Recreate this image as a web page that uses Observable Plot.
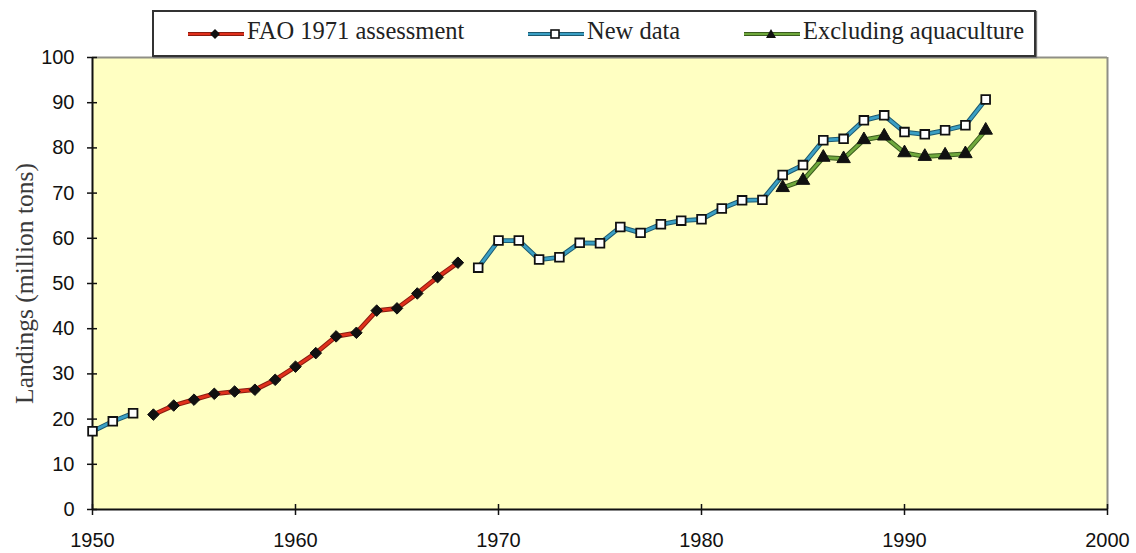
<!DOCTYPE html>
<html>
<head>
<meta charset="utf-8">
<script src="https://cdn.jsdelivr.net/npm/d3@7"></script>
<script src="https://cdn.jsdelivr.net/npm/@observablehq/plot@0.6"></script>
<style>
  html, body { margin: 0; padding: 0; background: #ffffff; }
  #wrap { position: relative; width: 1136px; height: 553px; overflow: hidden; }
  #legend {
    position: absolute; left: 152px; top: 10px; width: 880px; height: 43px;
    border: 2px solid #333; background: #ffffff; box-shadow: 1px 1px 1px #777;
    font-family: "Liberation Serif", serif; font-size: 24.5px; color: #222;
  }
  .item { position: absolute; top: 0; height: 43px; display: flex; align-items: center; }
  .item svg { margin-right: 3px; }
</style>
</head>
<body>
<div id="wrap"></div>
<script>
// ---- data ----
const newEarlyYears  = [1950, 1951, 1952];
const newEarlyValues = [17.3, 19.5, 21.3];

const faoYears  = [1953, 1954, 1955, 1956, 1957, 1958, 1959, 1960, 1961, 1962, 1963, 1964, 1965, 1966, 1967, 1968];
const faoValues = [21.0, 23.0, 24.3, 25.6, 26.1, 26.5, 28.7, 31.6, 34.6, 38.3, 39.1, 44.0, 44.5, 47.8, 51.4, 54.6];

const newLateYears  = [1969, 1970, 1971, 1972, 1973, 1974, 1975, 1976, 1977, 1978, 1979, 1980, 1981,
                       1982, 1983, 1984, 1985, 1986, 1987, 1988, 1989, 1990, 1991, 1992, 1993, 1994];
const newLateValues = [53.5, 59.5, 59.5, 55.3, 55.8, 59.0, 58.9, 62.5, 61.2, 63.1, 63.9, 64.2, 66.6,
                       68.4, 68.5, 74.0, 76.2, 81.7, 82.0, 86.1, 87.2, 83.5, 83.0, 83.9, 85.0, 90.7];

const exclYears  = [1984, 1985, 1986, 1987, 1988, 1989, 1990, 1991, 1992, 1993, 1994];
const exclValues = [71.2, 72.8, 77.9, 77.6, 81.8, 82.6, 78.9, 78.1, 78.4, 78.7, 83.9];

const xTicks = [1950, 1960, 1970, 1980, 1990, 2000];
const yTicks = [0, 10, 20, 30, 40, 50, 60, 70, 80, 90, 100];

const seriesNames = ["FAO 1971 assessment", "New data", "Excluding aquaculture"];
const yTitle = "Landings (million tons)";

// ---- styles ----
const C = {
  fao:  {line: "#e0301c", edge: "#8a1c10"},
  neu:  {line: "#3a9fc4", edge: "#1d5a70"},
  excl: {line: "#6fa83c", edge: "#3a5c1e"}
};
const bg = "#ffffc2";

const toRows = (xs, ys) => xs.map((x, i) => ({year: x, value: ys[i]}));
const newEarly = toRows(newEarlyYears, newEarlyValues);
const fao = toRows(faoYears, faoValues);
const newLate = toRows(newLateYears, newLateValues);
const excl = toRows(exclYears, exclValues);

const lineMarks = (data, c) => [
  Plot.line(data, {x: "year", y: "value", stroke: c.edge, strokeWidth: 4.8, strokeLinejoin: "round"}),
  Plot.line(data, {x: "year", y: "value", stroke: c.line, strokeWidth: 2.8, strokeLinejoin: "round"})
];

const tickFont = {fontSize: 20, fontFamily: "Liberation Sans, Arial, sans-serif"};

const chart = Plot.plot({
  width: 1136,
  height: 553,
  marginLeft: 92,
  marginRight: 29,
  marginTop: 57,
  marginBottom: 44,
  style: {background: "transparent", color: "#111", fontFamily: "Liberation Sans, Arial, sans-serif"},
  x: {domain: [1950, 2000], axis: null},
  y: {domain: [0, 100], axis: null},
  marks: [
    Plot.frame({fill: bg, stroke: "none"}),
    Plot.ruleY([100], {stroke: "#8f8f86", strokeWidth: 2}),
    Plot.ruleX([2000], {stroke: "#8f8f86", strokeWidth: 2}),
    Plot.axisX({ticks: xTicks, tickFormat: "d", tickSize: 11, dy: -5, tickPadding: 17, label: null,
                strokeWidth: 1.5, ...tickFont, letterSpacing: "-1px"}),
    Plot.axisY({ticks: yTicks, tickSize: 10, dx: 5, tickPadding: 13, label: null,
                strokeWidth: 1.5, ...tickFont, letterSpacing: "-1px"}),
    Plot.ruleY([0], {stroke: "#111", strokeWidth: 2}),
    Plot.ruleX([1950], {stroke: "#111", strokeWidth: 2}),
    Plot.text([yTitle], {frameAnchor: "left", textAnchor: "middle", dx: -68, rotate: -90, fontSize: 25.5,
                         fontFamily: "Liberation Serif, serif", fill: "#3a3a3a"}),
    ...lineMarks(fao, C.fao),
    ...lineMarks(newEarly, C.neu),
    ...lineMarks(newLate, C.neu),
    ...lineMarks(excl, C.excl),
    Plot.dot(fao, {x: "year", y: "value", symbol: "diamond2", r: 5.2, fill: "#111", stroke: "#111", strokeWidth: 1}),
    Plot.dot(newEarly, {x: "year", y: "value", symbol: "square", r: 4.9, fill: "#fff", stroke: "#111", strokeWidth: 1.8}),
    Plot.dot(newLate, {x: "year", y: "value", symbol: "square", r: 4.9, fill: "#fff", stroke: "#111", strokeWidth: 1.8}),
    Plot.dot(excl, {x: "year", y: "value", symbol: "triangle", r: 5, fill: "#111", stroke: "#111", strokeWidth: 1})
  ]
});

const wrap = document.getElementById("wrap");
wrap.appendChild(chart);

// ---- legend ----
const legend = document.createElement("div");
legend.id = "legend";
const swatch = (c, shape) => {
  let marker = "";
  if (shape === "diamond") marker = `<path d="M27,10 L32,15 L27,20 L22,15 Z" fill="#111"/>`;
  if (shape === "square") marker = `<rect x="23" y="11" width="8" height="8" fill="#fff" stroke="#111" stroke-width="1.6"/>`;
  if (shape === "triangle") marker = `<path d="M27,10 L32,19 L22,19 Z" fill="#111"/>`;
  return `<svg width="56" height="30" viewBox="0 0 56 30">
    <line x1="0" y1="15" x2="56" y2="15" stroke="${c.edge}" stroke-width="4"/>
    <line x1="0" y1="15" x2="56" y2="15" stroke="${c.line}" stroke-width="2"/>
    ${marker}</svg>`;
};
const items = [
  {left: 34, c: C.fao, shape: "diamond", name: seriesNames[0]},
  {left: 374, c: C.neu, shape: "square", name: seriesNames[1]},
  {left: 590, c: C.excl, shape: "triangle", name: seriesNames[2]}
];
for (const it of items) {
  const d = document.createElement("div");
  d.className = "item";
  d.style.left = it.left + "px";
  d.innerHTML = swatch(it.c, it.shape) + `<span style="position:relative; top:-3px">${it.name}</span>`;
  legend.appendChild(d);
}
wrap.appendChild(legend);
</script>
</body>
</html>
